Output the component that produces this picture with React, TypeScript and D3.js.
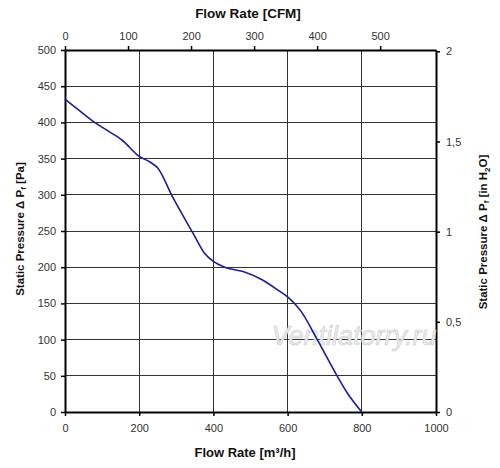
import React, { useRef, useEffect } from "react";
import * as d3 from "d3";

// Fan curve: flow (m³/h) vs static pressure (Pa)
const flowM3h = [0, 40, 80, 120, 155, 200, 230, 250, 290, 345, 375, 400, 430, 480, 530, 575, 600, 635, 680, 730, 760, 800];
const pressurePa = [432, 416, 400, 387, 375, 353, 345, 337, 297, 247, 220, 208, 200, 194, 183, 168, 159, 140, 100, 53, 27, 0];

const bottomTicks = [0, 200, 400, 600, 800, 1000];
const leftTicks = [0, 50, 100, 150, 200, 250, 300, 350, 400, 450, 500];
const topTicks = [0, 100, 200, 300, 400, 500];
const rightTicks = [0, 0.5, 1, 1.5, 2];

const M3H_PER_CFM = 1.699;
const PA_PER_INH2O = 249.09;

export default function App() {
  const ref = useRef<SVGSVGElement | null>(null);
  const width = 500, height = 468;
  const margin = { top: 50, right: 64, bottom: 56, left: 65 };

  useEffect(() => {
    const svg = d3.select(ref.current);
    svg.selectAll("*").remove();
    const font = "Liberation Sans, Arial, sans-serif";

    const x = d3.scaleLinear().domain([0, 1000]).range([margin.left, width - margin.right]);
    const y = d3.scaleLinear().domain([0, 500]).range([height - margin.bottom, margin.top]);
    const xCfm = d3.scaleLinear().domain([0, 1000 / M3H_PER_CFM]).range(x.range());
    const yIn = d3.scaleLinear().domain([0, 500 / PA_PER_INH2O]).range(y.range());

    // grid
    const grid = svg.append("g").attr("stroke", "#333").attr("stroke-width", 1).attr("shape-rendering", "crispEdges");
    grid.selectAll(".h").data(leftTicks.slice(1, -1)).join("line")
      .attr("x1", x(0)).attr("x2", x(1000)).attr("y1", d => y(d)).attr("y2", d => y(d));
    grid.selectAll(".v").data(bottomTicks.slice(1, -1)).join("line")
      .attr("y1", y(0)).attr("y2", y(500)).attr("x1", d => x(d)).attr("x2", d => x(d));

    const styleAxis = (g) => {
      g.attr("font-family", font).attr("font-size", 11);
      g.selectAll("text").attr("fill", "#333");
      g.select(".domain").attr("stroke", "#000").attr("stroke-width", 2);
      g.selectAll(".tick line").attr("stroke", "#000").attr("stroke-width", 1.5);
    };

    svg.append("g").attr("transform", `translate(0,${y(0)})`)
      .call(d3.axisBottom(x).tickValues(bottomTicks).tickFormat(d => String(d)).tickSizeInner(4).tickSizeOuter(0).tickPadding(8))
      .call(styleAxis);
    svg.append("g").attr("transform", `translate(${x(0)},0)`)
      .call(d3.axisLeft(y).tickValues(leftTicks).tickSizeInner(4).tickSizeOuter(0).tickPadding(5))
      .call(styleAxis);
    svg.append("g").attr("transform", `translate(0,${y(500)})`)
      .call(d3.axisTop(xCfm).tickValues(topTicks).tickSizeInner(4).tickSizeOuter(0).tickPadding(6))
      .call(styleAxis);
    svg.append("g").attr("transform", `translate(${x(1000)},0)`)
      .call(d3.axisRight(yIn).tickValues(rightTicks).tickFormat(d => String(d).replace(".", ",")).tickSizeInner(4).tickSizeOuter(0).tickPadding(6))
      .call(styleAxis);

    // watermark
    svg.append("text")
      .attr("x", 354).attr("y", 345)
      .attr("text-anchor", "middle")
      .attr("font-family", font).attr("font-style", "italic").attr("font-size", 27)
      .attr("fill", "#ececec").attr("stroke", "#cccccc").attr("stroke-width", 0.6)
      .text("Ventilatorry.ru");

    // curve
    const pts = flowM3h.map((q, i) => [q, pressurePa[i]] as [number, number]);
    svg.append("path")
      .datum(pts)
      .attr("fill", "none")
      .attr("stroke", "#1c1c9c")
      .attr("stroke-width", 1.6)
      .attr("d", d3.line<[number, number]>().x(d => x(d[0])).y(d => y(d[1])).curve(d3.curveMonotoneX));

    // titles
    const title = (t, tx, ty, size, rot = 0) =>
      svg.append("text")
        .attr("transform", `translate(${tx},${ty}) rotate(${rot})`)
        .attr("text-anchor", "middle")
        .attr("font-family", font).attr("font-weight", "bold").attr("font-size", size)
        .attr("fill", "#111")
        .text(t);
    title("Flow Rate [CFM]", 248, 18, 13.5);
    title("Flow Rate [m³/h]", 245, 457, 13);

    const l = svg.append("text")
      .attr("transform", `translate(24,229) rotate(-90)`)
      .attr("text-anchor", "middle")
      .attr("font-family", font).attr("font-weight", "bold").attr("font-size", 11.5)
      .attr("fill", "#111");
    l.append("tspan").text("Static Pressure Δ P");
    l.append("tspan").attr("font-size", 8).attr("dy", 2).text("f");
    l.append("tspan").attr("dy", -2).text(" [Pa]");

    const r = svg.append("text")
      .attr("transform", `translate(487,232) rotate(-90)`)
      .attr("text-anchor", "middle")
      .attr("font-family", font).attr("font-weight", "bold").attr("font-size", 11.5)
      .attr("fill", "#111");
    r.append("tspan").text("Static Pressure Δ P");
    r.append("tspan").attr("font-size", 8).attr("dy", 2).text("f");
    r.append("tspan").attr("dy", -2).text(" [in H");
    r.append("tspan").attr("font-size", 8).attr("dy", 3).text("2");
    r.append("tspan").attr("dy", -3).text("O]");
  }, []);

  return (
    <svg ref={ref} width={width} height={height}
      style={{ position: "absolute", left: 0, top: 0, background: "#fff" }} />
  );
}
